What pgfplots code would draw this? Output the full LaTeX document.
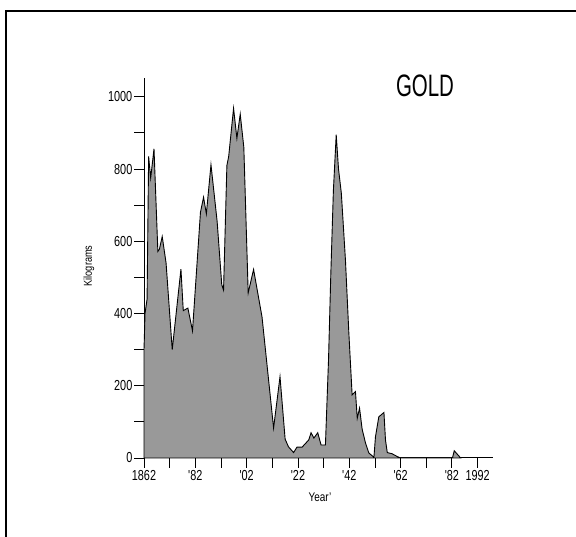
\documentclass[border=0pt]{standalone}
\usepackage{pgfplots}
\pgfplotsset{compat=1.18}
\usepackage{pgfplotstable}
\usepackage{fontspec}
\setmainfont{Liberation Sans}[FakeStretch=0.8]
\newfontfamily\tickfont{Liberation Sans}[FakeStretch=0.75]
\newfontfamily\titlefont{Liberation Sans}[FakeStretch=0.66]

% Annual gold production (kg)
\pgfplotstableread{
year kg
1862.0 300
1862.4 400
1863.2 440
1863.8 835
1864.6 775
1865.9 856
1867.4 572
1868.0 578
1869.1 613
1870.6 540
1873.0 300
1876.4 523
1877.3 408
1879.1 415
1880.9 352
1884.0 680
1885.2 722
1886.3 676
1888.1 812
1890.5 655
1892.3 480
1893.0 465
1894.3 810
1895.0 835
1896.9 968
1898.2 885
1899.5 952
1900.9 860
1902.6 457
1904.7 522
1906.6 446
1908.0 390
1912.5 83
1915.0 225
1917.0 52
1918.3 31
1920.3 15
1921.6 30
1923.6 30
1926.2 50
1927.1 70
1928.2 55
1929.7 70
1931.0 36
1932.7 36
1933.9 271
1934.8 510
1935.8 740
1936.9 895
1937.8 800
1938.9 733
1940.5 548
1941.8 350
1943.1 175
1944.4 184
1945.1 110
1946.0 138
1947.0 80
1948.3 42
1949.6 14
1951.6 2
1952.2 59
1953.5 114
1955.5 126
1956.1 50
1956.8 15
1958.6 12
1960.7 4
1962.0 0
1982.2 0
1982.9 20
1985.4 0
}\goldtable

\begin{document}
\begin{tikzpicture}
\path[use as bounding box] (0,0) rectangle (576pt,537pt);
\draw[line width=1.1pt] (6pt,0pt) -- (6pt,526pt) -- (576pt,526pt);
\begin{axis}[
  at={(144pt,79pt)}, anchor=south west,
  scale only axis, width=349pt, height=380pt,
  xmin=1862, xmax=1998, ymin=0, ymax=1052,
  axis x line=bottom, axis y line=left,
  axis line style={-, line width=1pt},
  tick align=outside,
  major tick length=10pt, minor tick length=10pt,
  tick style={line width=0.9pt, black},
  xtick={1862,1882,1902,1922,1942,1962,1982,1992},
  xticklabels={1862,'82,'02,'22,'42,'62,'82,1992},
  minor xtick={1872,1892,1912,1932,1952,1972},
  ytick={0,200,400,600,800,1000},
  minor ytick={100,300,500,700,900},
  /pgf/number format/assume math mode=true,
  /pgf/number format/set thousands separator={},
  yticklabel style={font=\tickfont\fontsize{14.5}{15}\selectfont, inner sep=1.5pt},
  xticklabel style={font=\tickfont\fontsize{14.5}{15}\selectfont, inner sep=2pt},
  clip=false,
]
\addplot[draw=black, line width=0.9pt, fill=black!40] table[x=year, y=kg] {\goldtable} \closedcycle;
\end{axis}
\node[font=\fontsize{12.5}{13}\selectfont] at (320pt,40pt) {Year'};
\node[rotate=90, font=\fontsize{11.5}{12}\selectfont] at (89pt,271pt) {Kilograms};
\node[font=\titlefont\fontsize{31}{32}\selectfont] at (425pt,451pt) {GOLD};
\end{tikzpicture}
\end{document}
